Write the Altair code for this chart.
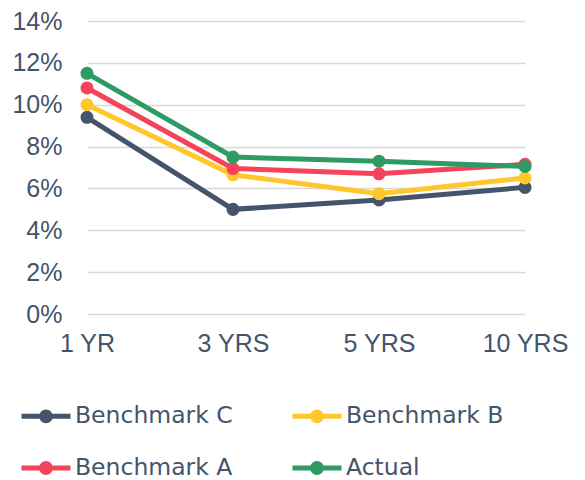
import altair as alt
import pandas as pd

periods = ["1 YR", "3 YRS", "5 YRS", "10 YRS"]
series = ["Benchmark C", "Benchmark B", "Benchmark A", "Actual"]
legend_order = ["Benchmark C", "Benchmark A", "Benchmark B", "Actual"]
bench_c = [9.4, 5.0, 5.45, 6.05]
bench_b = [10.0, 6.65, 5.75, 6.5]
bench_a = [10.8, 6.95, 6.7, 7.15]
actual = [11.5, 7.5, 7.3, 7.05]
colors = ["#44546A", "#FFC72C", "#F5435A", "#2E9B64"]
y_ticks = [0, 0.02, 0.04, 0.06, 0.08, 0.10, 0.12, 0.14]

rows = []
for name, vals in zip(series, [bench_c, bench_b, bench_a, actual]):
    for p, v in zip(periods, vals):
        rows.append({"period": p, "series": name, "value": v / 100})
df = pd.DataFrame(rows)

TEXT = "#44546A"
AXFONT = "Liberation Sans"
LEGFONT = "DejaVu Sans"
sym = ("M-1,0H1M-0.18,0A0.18,0.18 0 1,0 0.18,0A0.18,0.18 0 1,0 -0.18,0"
       "M-0.08,0A0.08,0.08 0 1,0 0.08,0A0.08,0.08 0 1,0 -0.08,0")

chart = alt.Chart(df).mark_line(
    strokeWidth=5,
    point=alt.OverlayMarkDef(filled=True, size=170, opacity=1),
).encode(
    x=alt.X("period:N", sort=periods, scale=alt.Scale(type="point", padding=0),
            axis=alt.Axis(title=None, labelAngle=0, domain=False, ticks=False,
                          grid=False, labelPadding=17, labelFontSize=25,
                          labelColor=TEXT, labelFont=AXFONT)),
    y=alt.Y("value:Q", scale=alt.Scale(domain=[0, 0.14], nice=False),
            axis=alt.Axis(title=None, format=".0%", values=y_ticks, domain=False,
                          ticks=False, gridColor="#D9D9D9", gridWidth=1.5,
                          labelPadding=25, labelFontSize=25, labelColor=TEXT,
                          labelFont=AXFONT)),
    color=alt.Color("series:N", sort=series,
                    scale=alt.Scale(domain=series, range=colors),
                    legend=alt.Legend(title=None, orient="none", legendX=-68,
                                      legendY=368, columns=2, columnPadding=49,
                                      rowPadding=10, symbolType=sym, symbolSize=2401,
                                      symbolStrokeWidth=5, labelOffset=2,
                                      values=legend_order,
                                      labelFontSize=23.5, labelColor=TEXT,
                                      labelFont=LEGFONT, padding=0)),
).properties(
    width=438, height=293,
    autosize=alt.AutoSizeParams(type="none"),
    padding={"left": 79, "top": 13, "right": 50, "bottom": 172},
).configure_view(stroke=None)

chart.save("out.html", embed_options={"renderer": "svg", "actions": False})
